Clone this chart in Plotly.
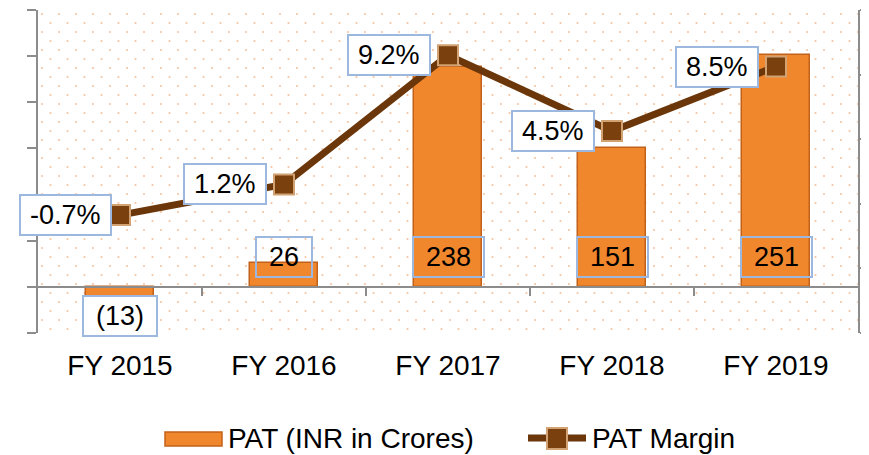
import base64
import plotly.graph_objects as go

categories = ["FY 2015", "FY 2016", "FY 2017", "FY 2018", "FY 2019"]
pat_values = [-13, 26, 238, 151, 251]
pat_labels = ["(13)", "26", "238", "151", "251"]
margin_values = [-0.7, 1.2, 9.2, 4.5, 8.5]
margin_labels = ["-0.7%", "1.2%", "9.2%", "4.5%", "8.5%"]
bar_name = "PAT (INR in Crores)"
line_name = "PAT Margin"

FONT = "Liberation Sans, Arial, sans-serif"
# page body has an 8px default margin (top/left): size the figure so it ends at the window edge
OFF = 8
W, H = 869 - OFF, 455 - OFF
PL, PR, PT, PB = 38, 858, 10, 333          # plot area in window pixels
ML, MR, MT, MB = PL - OFF, (W + OFF) - PR, PT - OFF, (H + OFF) - PB
PW, PH = PR - PL, PB - PT
y1_range = [-50, 300]
y2_range = [-8, 12]

CW = {"0": .556, "1": .556, "2": .556, "3": .556, "4": .556, "5": .556, "6": .556,
      "7": .556, "8": .556, "9": .556, ".": .278, "%": .889, "-": .333, "(": .333, ")": .333}


def text_w(s, size):
    return sum(CW.get(c, .556) for c in s) * size


def px_x(p):
    return (p - PL) / PW


def px_y(p):
    return (PB - p) / PH


fig = go.Figure()
fig.add_trace(go.Bar(
    x=categories, y=pat_values, name=bar_name, width=0.41,
    marker=dict(color="#F0872D", line=dict(color="#C2621A", width=1.5)),
    showlegend=False, yaxis="y"))
fig.add_trace(go.Scatter(
    x=categories, y=margin_values, name=line_name, mode="lines+markers",
    line=dict(color="#6B370A", width=7),
    marker=dict(symbol="square", size=20, color="#7A410E", line=dict(color="#D2A272", width=2)),
    showlegend=False, yaxis="y2"))
# empty helper trace so the zero-positioned category-boundary axis gets drawn
fig.add_trace(go.Scatter(x=[], y=[], xaxis="x2", yaxis="y", showlegend=False, hoverinfo="skip"))

ann = []
LBL = 27
for c, v, t in zip(categories, pat_values, pat_labels):
    ann.append(dict(x=c, y=0, xref="x", yref="y", text=t, showarrow=False,
                    yanchor="bottom" if v >= 0 else "top", yshift=9 if v >= 0 else -8,
                    width=text_w(t, LBL) + 20, height=34, borderpad=2, borderwidth=2,
                    bordercolor="#9DB8DF", bgcolor="rgba(0,0,0,0)" if v >= 0 else "white",
                    font=dict(family=FONT, size=LBL, color="black")))
for c, v, t in zip(categories, margin_values, margin_labels):
    ann.append(dict(x=c, y=v, xref="x", yref="y2", text=t, showarrow=False,
                    xanchor="left", xshift=-101, yanchor="middle",
                    width=text_w(t, LBL) + 14, height=34, borderpad=2, borderwidth=2,
                    bordercolor="#9DB8DF", bgcolor="white",
                    font=dict(family=FONT, size=LBL, color="black")))

# manual legend
leg_y = 438
ann.append(dict(x=px_x(226), y=px_y(leg_y), xref="paper", yref="paper", text=bar_name,
                showarrow=False, xanchor="left", yanchor="middle",
                font=dict(family=FONT, size=28, color="black")))
ann.append(dict(x=px_x(590), y=px_y(leg_y), xref="paper", yref="paper", text=line_name,
                showarrow=False, xanchor="left", yanchor="middle",
                font=dict(family=FONT, size=28, color="black")))
shapes = [
    dict(type="rect", xref="paper", yref="paper", x0=px_x(165), x1=px_x(222),
         y0=px_y(446), y1=px_y(432), fillcolor="#F0872D", line=dict(color="#C2621A", width=1.5)),
    dict(type="line", xref="paper", yref="paper", x0=px_x(528), x1=px_x(586),
         y0=px_y(leg_y), y1=px_y(leg_y), line=dict(color="#6B370A", width=7)),
    dict(type="rect", xref="paper", yref="paper", x0=px_x(547), x1=px_x(567),
         y0=px_y(449), y1=px_y(428), fillcolor="#7A410E", line=dict(color="#D2A272", width=2)),
]

svg = ('<svg xmlns="http://www.w3.org/2000/svg" width="%d" height="%d">'
       '<defs><pattern id="p" width="17" height="18" patternUnits="userSpaceOnUse">'
       '<circle cx="4" cy="4" r="1.1" fill="#F5C4A0"/><circle cx="12.5" cy="13" r="1.1" fill="#F5C4A0"/>'
       '</pattern></defs><rect width="100%%" height="100%%" fill="url(#p)"/></svg>') % (PW, PH)
src = "data:image/svg+xml;base64," + base64.b64encode(svg.encode()).decode()

axis_col = "#8C8C8C"
fig.update_layout(
    width=W, height=H, margin=dict(l=ML, r=MR, t=MT, b=MB, pad=0),
    paper_bgcolor="white", plot_bgcolor="rgba(0,0,0,0)",
    font=dict(family=FONT, color="black"),
    showlegend=False, bargap=0,
    xaxis=dict(type="category", range=[-0.5, 4.5], showline=False, showgrid=False, zeroline=False,
               ticks="outside", ticklen=7, tickcolor="rgba(0,0,0,0)",
               tickfont=dict(family=FONT, size=28, color="black")),
    xaxis2=dict(type="linear", overlaying="x", anchor="free",
                position=(0 - y1_range[0]) / (y1_range[1] - y1_range[0]),
                range=[-0.5, 4.5], showline=True, linecolor=axis_col, linewidth=2,
                ticks="outside", ticklen=8, tickcolor=axis_col, tickwidth=2,
                tickvals=[0.5, 1.5, 2.5, 3.5], showticklabels=False, showgrid=False, zeroline=False),
    yaxis=dict(range=y1_range, dtick=50, showline=True, linecolor=axis_col, linewidth=2,
               ticks="outside", ticklen=9, tickcolor=axis_col, tickwidth=2,
               showticklabels=False, showgrid=False,
               zeroline=True, zerolinecolor=axis_col, zerolinewidth=2),
    yaxis2=dict(range=y2_range, dtick=4, overlaying="y", side="right", showline=True,
                linecolor=axis_col, linewidth=2, ticks="outside", ticklen=9, tickcolor=axis_col,
                tickwidth=2, showticklabels=False, showgrid=False, zeroline=False),
    annotations=ann, shapes=shapes,
    images=[dict(source=src, xref="paper", yref="paper", x=0, y=1, sizex=1, sizey=1,
                 xanchor="left", yanchor="top", sizing="stretch", layer="below")],
)
fig.write_html("out.html")
